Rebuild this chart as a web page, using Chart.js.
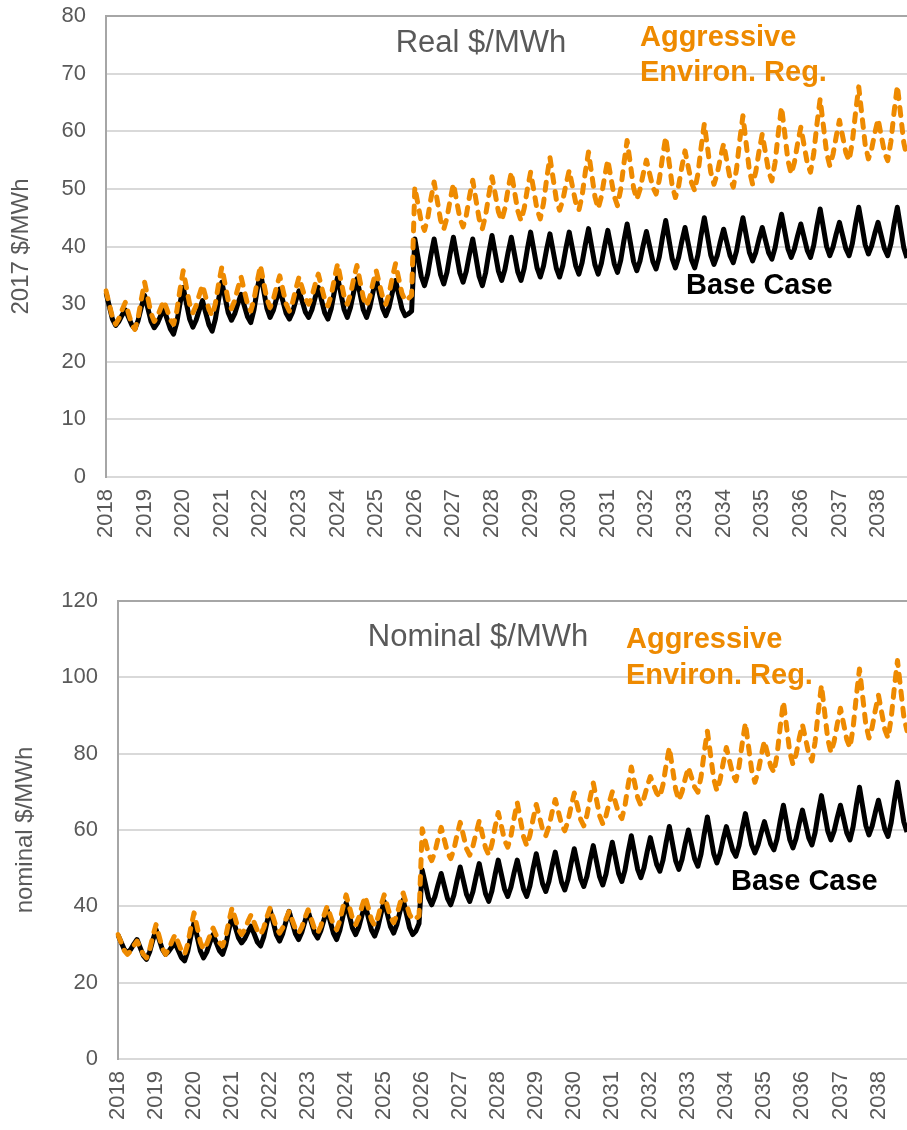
<!DOCTYPE html>
<html>
<head>
<meta charset="utf-8">
<script src="https://cdn.jsdelivr.net/npm/chart.js@4"></script>
<style>
  html, body { margin: 0; padding: 0; background: #fff; overflow: hidden; }
  canvas { position: absolute; left: 0; }
  #realChart { top: 0; }
  #nominalChart { top: 580px; }
</style>
</head>
<body>
<canvas id="realChart" width="907" height="560"></canvas>
<canvas id="nominalChart" width="907" height="550"></canvas>
<script>
// Años del eje X (una etiqueta por enero)
const years = ['2018', '2019', '2020', '2021', '2022', '2023', '2024', '2025', '2026', '2027', '2028',
               '2029', '2030', '2031', '2032', '2033', '2034', '2035', '2036', '2037', '2038'];
const monthNames = ['Jan', 'Feb', 'Mar', 'Apr', 'May', 'Jun', 'Jul', 'Aug', 'Sep', 'Oct', 'Nov', 'Dec'];

// Precios reales (2017 $/MWh), una fila por año, ene-dic
const realBase = [
    [32.0, 29.7, 27.4, 26.3, 27.0, 28.1, 29.0, 27.7, 26.4, 25.7, 27.2, 29.5],
    [31.5, 29.3, 27.0, 25.9, 26.7, 28.0, 29.1, 27.4, 25.7, 24.8, 26.8, 30.1],
    [32.9, 30.1, 27.4, 26.0, 27.2, 29.0, 30.6, 28.5, 26.4, 25.3, 27.4, 30.8],
    [33.8, 31.2, 28.5, 27.2, 28.3, 30.1, 31.7, 29.7, 27.8, 26.8, 29.0, 32.5],
    [35.5, 32.4, 29.3, 27.7, 28.9, 30.9, 32.6, 30.5, 28.4, 27.4, 28.6, 30.6],
    [32.3, 30.5, 28.6, 27.7, 29.0, 31.1, 32.9, 30.7, 28.5, 27.4, 29.2, 32.2],
    [34.7, 31.9, 29.1, 27.7, 29.4, 32.1, 34.4, 31.7, 29.0, 27.7, 29.4, 32.1],
    [34.4, 31.8, 29.3, 28.0, 29.5, 32.0, 34.1, 31.7, 29.2, 28.0, 28.3, 28.8],
    [41.3, 38.1, 34.8, 33.2, 35.2, 38.5, 41.3, 38.2, 35.1, 33.5, 35.5, 38.8],
    [41.6, 38.5, 35.4, 33.8, 35.7, 38.7, 41.3, 38.1, 34.8, 33.2, 35.4, 38.9],
    [41.9, 38.8, 35.7, 34.1, 36.0, 39.0, 41.6, 38.6, 35.6, 34.1, 36.2, 39.6],
    [42.5, 39.4, 36.3, 34.7, 36.6, 39.6, 42.2, 39.2, 36.2, 34.7, 36.7, 39.8],
    [42.5, 39.6, 36.7, 35.2, 37.2, 40.3, 43.1, 39.9, 36.8, 35.2, 37.1, 40.1],
    [42.8, 39.9, 37.0, 35.5, 37.6, 41.0, 43.9, 40.7, 37.4, 35.8, 37.5, 40.2],
    [42.6, 40.0, 37.4, 36.1, 38.2, 41.6, 44.5, 41.2, 37.9, 36.3, 38.1, 40.9],
    [43.3, 40.5, 37.7, 36.3, 38.5, 42.0, 45.0, 41.8, 38.5, 36.9, 38.4, 40.9],
    [43.0, 40.7, 38.4, 37.2, 39.2, 42.3, 45.0, 42.0, 39.0, 37.5, 39.0, 41.3],
    [43.3, 41.1, 38.9, 37.8, 39.8, 42.9, 45.6, 42.6, 39.6, 38.1, 39.6, 41.9],
    [43.9, 41.6, 39.3, 38.1, 40.2, 43.6, 46.5, 43.3, 40.0, 38.4, 39.9, 42.2],
    [44.2, 41.9, 39.6, 38.4, 40.5, 43.9, 46.8, 43.6, 40.3, 38.7, 40.1, 42.3],
    [44.2, 41.9, 39.6, 38.4, 40.5, 43.9, 46.8, 43.3, 39.8, 38.0]
];

const realAggressive = [
    [32.3, 30.0, 27.7, 26.5, 27.5, 29.0, 30.3, 28.4, 26.5, 25.6, 27.7, 30.9],
    [33.8, 31.1, 28.4, 27.0, 27.9, 29.3, 30.6, 29.0, 27.3, 26.5, 28.8, 32.5],
    [35.8, 32.9, 30.0, 28.5, 29.7, 31.6, 33.3, 31.2, 29.1, 28.0, 30.1, 33.5],
    [36.4, 33.5, 30.6, 29.2, 30.6, 32.8, 34.7, 32.3, 30.0, 28.8, 30.8, 33.9],
    [36.7, 33.8, 30.9, 29.4, 30.8, 33.0, 34.9, 32.5, 30.0, 28.8, 30.3, 32.6],
    [34.7, 32.8, 30.9, 30.0, 31.3, 33.4, 35.2, 33.0, 30.8, 29.7, 31.5, 34.4],
    [37.0, 34.2, 31.4, 30.0, 31.7, 34.4, 36.7, 33.9, 31.1, 29.7, 31.2, 33.7],
    [35.8, 33.5, 31.2, 30.0, 31.8, 34.6, 37.0, 34.4, 31.9, 30.6, 31.0, 31.5],
    [50.3, 47.3, 44.3, 42.8, 44.9, 48.3, 51.2, 47.9, 44.6, 43.0, 45.0, 48.1],
    [50.9, 47.9, 44.9, 43.4, 45.4, 48.7, 51.5, 48.1, 44.8, 43.1, 45.4, 48.9],
    [52.1, 49.1, 46.0, 44.5, 46.6, 50.0, 52.9, 49.5, 46.2, 44.5, 46.6, 50.0],
    [52.9, 49.7, 46.4, 44.8, 47.5, 51.8, 55.5, 51.8, 48.1, 46.3, 48.0, 50.8],
    [53.2, 50.4, 47.7, 46.3, 48.8, 52.9, 56.4, 52.5, 48.6, 46.6, 48.7, 52.1],
    [55.0, 51.8, 48.7, 47.1, 49.9, 54.4, 58.4, 54.3, 50.2, 48.2, 49.9, 52.6],
    [55.0, 52.6, 50.3, 49.1, 51.6, 55.5, 59.0, 54.8, 50.6, 48.5, 50.5, 53.8],
    [56.6, 53.8, 51.1, 49.7, 52.6, 57.2, 61.3, 57.1, 52.9, 50.8, 52.6, 55.4],
    [57.8, 54.8, 51.8, 50.3, 53.4, 58.4, 62.7, 57.9, 53.2, 50.8, 53.0, 56.5],
    [59.5, 56.3, 53.0, 51.4, 54.6, 59.7, 64.2, 59.6, 54.9, 52.6, 54.6, 57.9],
    [60.7, 57.6, 54.5, 52.9, 56.1, 61.2, 65.6, 61.0, 56.3, 54.0, 56.0, 59.1],
    [61.9, 59.1, 56.3, 54.9, 58.1, 63.2, 67.7, 62.7, 57.7, 55.2, 56.9, 59.7],
    [62.1, 59.2, 56.3, 54.9, 58.2, 63.4, 67.9, 63.0, 58.0, 55.5]
];

// Precios nominales ($/MWh)
const nominalBase = [
    [32.5, 30.6, 28.7, 27.8, 28.7, 30.1, 31.3, 29.2, 27.1, 26.1, 28.1, 31.2],
    [33.9, 31.3, 28.7, 27.4, 28.2, 29.4, 30.4, 28.5, 26.6, 25.7, 28.2, 32.2],
    [35.7, 32.0, 28.3, 26.5, 28.0, 30.5, 32.6, 30.5, 28.4, 27.4, 29.9, 33.9],
    [37.4, 34.6, 31.8, 30.4, 31.5, 33.3, 34.8, 32.7, 30.6, 29.6, 32.0, 35.8],
    [39.1, 35.8, 32.5, 30.9, 32.9, 36.0, 38.7, 35.7, 32.8, 31.3, 33.2, 36.1],
    [38.7, 35.9, 33.1, 31.7, 33.6, 36.5, 39.1, 36.0, 32.9, 31.3, 33.7, 37.5],
    [40.9, 37.6, 34.3, 32.6, 34.6, 37.7, 40.4, 37.1, 33.8, 32.2, 34.5, 38.1],
    [41.3, 38.0, 34.7, 33.0, 35.2, 38.7, 41.7, 38.1, 34.4, 32.6, 33.5, 35.5],
    [49.5, 45.9, 42.2, 40.4, 42.5, 45.7, 48.6, 45.3, 42.0, 40.4, 42.9, 46.8],
    [50.3, 46.7, 43.1, 41.3, 43.8, 47.7, 51.2, 47.2, 43.3, 41.3, 44.0, 48.3],
    [52.1, 48.3, 44.5, 42.6, 45.0, 48.8, 52.1, 48.3, 44.5, 42.6, 45.4, 49.9],
    [53.8, 49.8, 45.9, 43.9, 46.5, 50.6, 54.2, 50.2, 46.3, 44.3, 47.0, 51.3],
    [55.1, 51.1, 47.2, 45.2, 47.9, 52.2, 55.9, 51.8, 47.7, 45.6, 48.4, 52.9],
    [56.8, 52.7, 48.6, 46.5, 49.5, 54.3, 58.5, 54.1, 49.7, 47.5, 50.1, 54.3],
    [58.0, 54.5, 51.0, 49.2, 52.1, 56.8, 60.9, 56.4, 51.9, 49.7, 52.3, 56.4],
    [60.0, 56.2, 52.4, 50.5, 53.7, 58.9, 63.4, 58.6, 53.8, 51.4, 53.8, 57.6],
    [60.9, 57.8, 54.7, 53.1, 55.9, 60.4, 64.3, 60.2, 56.1, 54.0, 56.1, 59.3],
    [62.2, 59.2, 56.3, 54.8, 57.7, 62.4, 66.5, 62.0, 57.5, 55.3, 57.8, 61.7],
    [65.2, 61.6, 57.9, 56.1, 59.3, 64.5, 69.0, 64.4, 59.7, 57.4, 59.7, 63.3],
    [66.5, 62.9, 59.2, 57.4, 60.9, 66.4, 71.2, 66.2, 61.2, 58.7, 61.0, 64.6],
    [67.8, 64.0, 60.2, 58.3, 61.9, 67.5, 72.5, 67.3, 62.1, 59.5]
];

const nominalAggressive = [
    [32.6, 30.5, 28.4, 27.4, 28.3, 29.7, 30.9, 29.1, 27.4, 26.5, 28.7, 32.2],
    [35.2, 32.1, 29.0, 27.4, 28.7, 30.8, 32.6, 30.5, 28.4, 27.4, 30.1, 34.5],
    [38.3, 34.5, 30.6, 28.7, 30.1, 32.3, 34.3, 32.4, 30.5, 29.6, 32.1, 36.1],
    [39.6, 36.8, 34.0, 32.6, 33.9, 36.0, 37.8, 35.7, 33.6, 32.6, 34.4, 37.2],
    [39.6, 37.0, 34.3, 33.0, 34.4, 36.7, 38.7, 36.4, 34.1, 33.0, 34.5, 37.0],
    [39.1, 36.7, 34.2, 33.0, 34.8, 37.6, 40.0, 37.6, 35.1, 33.9, 36.2, 39.8],
    [43.0, 39.9, 36.8, 35.2, 37.1, 40.0, 42.6, 39.6, 36.5, 35.0, 37.0, 40.2],
    [43.0, 40.1, 37.2, 35.7, 37.7, 40.8, 43.5, 40.7, 37.9, 36.5, 36.8, 37.5],
    [60.3, 57.0, 53.7, 52.0, 54.2, 57.7, 60.7, 57.4, 54.1, 52.5, 54.9, 58.7],
    [62.0, 58.6, 55.1, 53.4, 55.7, 59.2, 62.4, 58.8, 55.3, 53.5, 56.3, 60.7],
    [64.6, 61.0, 57.3, 55.5, 58.4, 63.1, 67.2, 62.7, 58.2, 55.9, 58.6, 62.9],
    [66.7, 63.4, 60.1, 58.5, 60.9, 64.7, 68.0, 64.7, 61.4, 59.8, 62.3, 66.2],
    [69.7, 66.3, 62.8, 61.1, 63.9, 68.4, 72.3, 68.0, 63.7, 61.6, 63.7, 67.1],
    [70.0, 67.2, 64.4, 63.0, 66.4, 71.8, 76.5, 72.5, 68.5, 66.5, 68.4, 71.4],
    [74.0, 71.8, 69.7, 68.6, 71.9, 77.1, 81.6, 76.1, 70.6, 67.8, 70.0, 73.4],
    [76.4, 73.8, 71.2, 69.9, 73.9, 80.3, 85.9, 79.7, 73.4, 70.3, 73.1, 77.6],
    [81.6, 78.1, 74.6, 72.9, 76.7, 82.7, 88.0, 81.8, 75.6, 72.5, 75.2, 79.5],
    [83.3, 80.0, 76.7, 75.1, 79.7, 87.1, 93.6, 87.0, 80.5, 77.2, 79.8, 84.0],
    [87.6, 83.8, 80.0, 78.1, 83.1, 91.0, 97.9, 90.9, 83.8, 80.3, 83.2, 87.8],
    [91.9, 87.8, 83.7, 81.6, 86.8, 95.0, 102.2, 95.0, 87.7, 84.1, 86.9, 91.4],
    [95.3, 90.8, 86.3, 84.1, 89.2, 97.3, 104.4, 97.0, 89.7, 86.0]
];

// Categorías mensuales (ene 2018 - oct 2038)
const categories = years.flatMap(y => monthNames.map(m => `${m} ${y}`)).slice(0, realBase.flat().length);

const orange = '#EE8A00';
const gray = '#595959';
const fontFamily = 'Liberation Sans, Arial, sans-serif';

// Textos dentro del gráfico
const textPlugin = {
    id: 'chartTexts',
    afterDatasetsDraw(chart, args, opts) {
        const ctx = chart.ctx;
        ctx.save();
        ctx.textBaseline = 'middle';
        opts.items.forEach(t => {
            ctx.font = `${t.bold ? 'bold ' : ''}${t.size}px ${fontFamily}`;
            ctx.fillStyle = t.color;
            ctx.textAlign = t.align || 'left';
            ctx.fillText(t.text, t.x, t.y);
        });
        ctx.restore();
    }
};

function buildChart(canvasId, opt) {
    return new Chart(document.getElementById(canvasId), {
        type: 'line',
        data: {
            labels: categories,
            datasets: [
                {
                    label: 'Aggressive Environ. Reg.',
                    data: opt.aggressive.flat(),
                    borderColor: orange,
                    borderWidth: 5,
                    borderDash: [8, 9],
                    borderCapStyle: 'round',
                    borderJoinStyle: 'round',
                    pointRadius: 0,
                    tension: 0,
                    order: 0
                },
                {
                    label: 'Base Case',
                    data: opt.base.flat(),
                    borderColor: '#000000',
                    borderWidth: 5,
                    borderJoinStyle: 'round',
                    pointRadius: 0,
                    tension: 0,
                    order: 1
                }
            ]
        },
        options: {
            responsive: false,
            animation: false,
            events: [],
            layout: { padding: { top: opt.top, right: 0, bottom: 0, left: 0 } },
            plugins: {
                legend: { display: false },
                tooltip: { enabled: false },
                chartTexts: { items: opt.texts }
            },
            scales: {
                x: {
                    type: 'category',
                    offset: false,
                    grid: { display: false, drawTicks: false },
                    border: { display: true, color: '#d9d9d9', width: 2 },
                    ticks: {
                        autoSkip: false,
                        minRotation: 90,
                        maxRotation: 90,
                        padding: 12,
                        color: gray,
                        font: { family: fontFamily, size: 22 },
                        callback: (v, i) => (i % 12 === 0 ? years[i / 12] : '')
                    },
                    afterFit: s => { s.height = opt.xHeight; s.paddingLeft = 0; s.paddingRight = 0; }
                },
                y: {
                    min: 0,
                    max: opt.max,
                    ticks: {
                        stepSize: opt.step,
                        padding: 20,
                        color: gray,
                        font: { family: fontFamily, size: 22 }
                    },
                    grid: {
                        drawTicks: false,
                        lineWidth: 2,
                        color: c => (c.tick && c.tick.value === opt.max ? '#a6a6a6' : '#d9d9d9')
                    },
                    border: { display: true, color: '#a6a6a6', width: 2 },
                    title: {
                        display: true,
                        text: opt.yTitle,
                        color: gray,
                        font: { family: fontFamily, size: 24 },
                        padding: { top: opt.titlePad, bottom: 0 }
                    },
                    afterFit: s => { s.width = opt.yWidth; s.paddingTop = 0; s.paddingBottom = 0; }
                }
            }
        },
        plugins: [textPlugin]
    });
}

buildChart('realChart', {
    base: realBase,
    aggressive: realAggressive,
    max: 80,
    step: 10,
    top: 16,
    xHeight: 83,
    yWidth: 106,
    titlePad: 7,
    yTitle: '2017 $/MWh',
    texts: [
        { text: 'Real $/MWh', x: 481, y: 43, size: 31, color: gray, align: 'center' },
        { text: 'Aggressive', x: 640, y: 38, size: 29, bold: true, color: orange },
        { text: 'Environ. Reg.', x: 640, y: 73, size: 29, bold: true, color: orange },
        { text: 'Base Case', x: 686, y: 286, size: 29, bold: true, color: '#000000' }
    ]
});

buildChart('nominalChart', {
    base: nominalBase,
    aggressive: nominalAggressive,
    max: 120,
    step: 20,
    top: 21,
    xHeight: 71,
    yWidth: 118,
    titlePad: 11,
    yTitle: 'nominal $/MWh',
    texts: [
        { text: 'Nominal $/MWh', x: 478, y: 57, size: 31, color: gray, align: 'center' },
        { text: 'Aggressive', x: 626, y: 60, size: 29, bold: true, color: orange },
        { text: 'Environ. Reg.', x: 626, y: 96, size: 29, bold: true, color: orange },
        { text: 'Base Case', x: 731, y: 302, size: 29, bold: true, color: '#000000' }
    ]
});
</script>
</body>
</html>
